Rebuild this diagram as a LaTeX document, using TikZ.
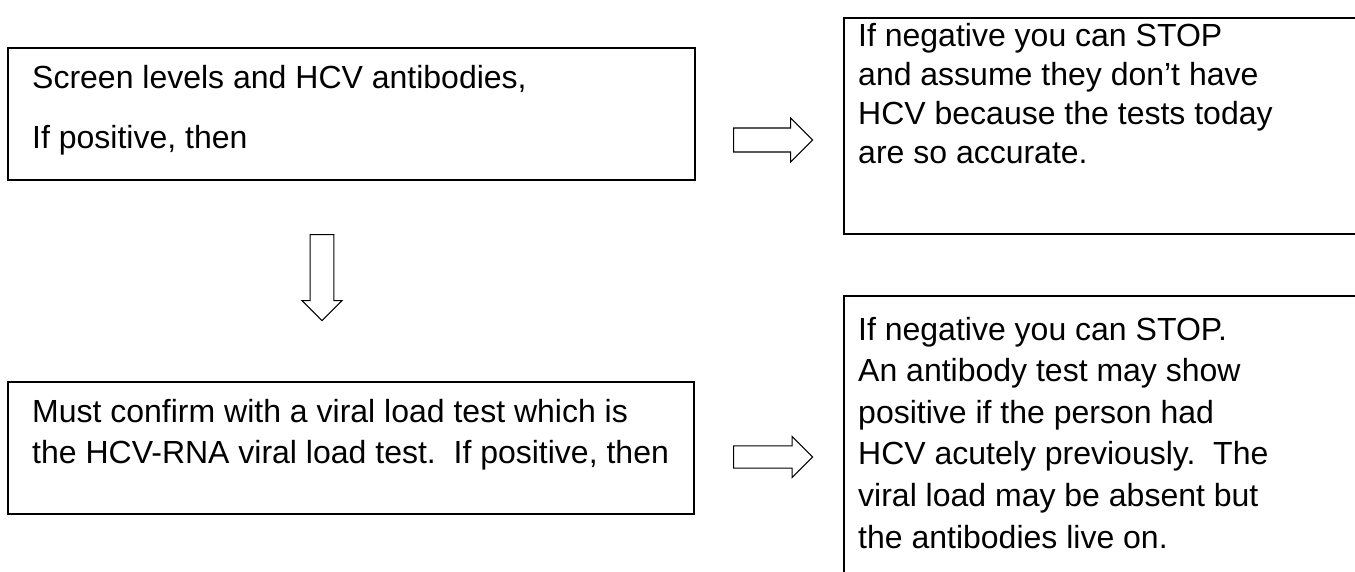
\documentclass[tikz,border=0pt]{standalone}
\usepackage{fontspec}
\setmainfont{Liberation Sans}
\usetikzlibrary{shapes.arrows}
\newcommand\textlines[2]{{\fontsize{32}{#1}\selectfont\vtop{\halign{##\hfil\cr#2\crcr}}}}
\tikzset{
  boxframe/.style={draw=black, line width=1.6pt, rectangle, inner sep=0pt, anchor=north west},
  boxtext/.style={anchor=base west, inner sep=0pt, font=\fontsize{32}{40}\selectfont},
  blockarrow/.style={draw=black, line width=1.1pt, single arrow, single arrow tip angle=90,
    inner xsep=0pt, inner ysep=8pt, minimum height=79pt, minimum width=44pt, anchor=tail},
}
\begin{document}
\begin{tikzpicture}[x=1pt,y=-1pt]
\useasboundingbox (0,0) rectangle (1355,571);
% boxes
\node[boxframe, minimum width=687pt, minimum height=132pt] (b1) at (7,47) {};
\node[boxframe, minimum width=686pt, minimum height=132pt] (b2) at (7,381) {};
\node[boxframe, minimum width=600pt, minimum height=216pt] (r1) at (843,17) {};
\node[boxframe, minimum width=600pt, minimum height=320pt] (r2) at (843,295) {};
% texts
\node[boxtext] (t1a) at (32,88) {Screen levels and HCV antibodies,};
\node[boxtext] (t1b) at (32,148) {If positive, then};
\node[boxtext] (t2) at (32,422) {\textlines{41}{Must confirm with a viral load test which is\cr the HCV-RNA viral load test.\ \ If positive, then}};
\node[boxtext] (t3) at (858,46) {\textlines{39}{If negative you can STOP\cr and assume they don’t have\cr HCV because the tests today\cr are so accurate.}};
\node[boxtext] (t4) at (858,340) {\textlines{41.6}{If negative you can STOP.\cr An antibody test may show\cr positive if the person had\cr HCV acutely previously.\ \ The\cr viral load may be absent but\cr the antibodies live on.}};
% arrows
\node[blockarrow] (a1) at (733,140) {};
\node[blockarrow, minimum width=41pt] (a2) at (733,457) {};
\node[blockarrow, rotate=-90, minimum height=86pt, minimum width=40pt, inner ysep=10pt] (a3) at (322,234) {};
\end{tikzpicture}
\end{document}
